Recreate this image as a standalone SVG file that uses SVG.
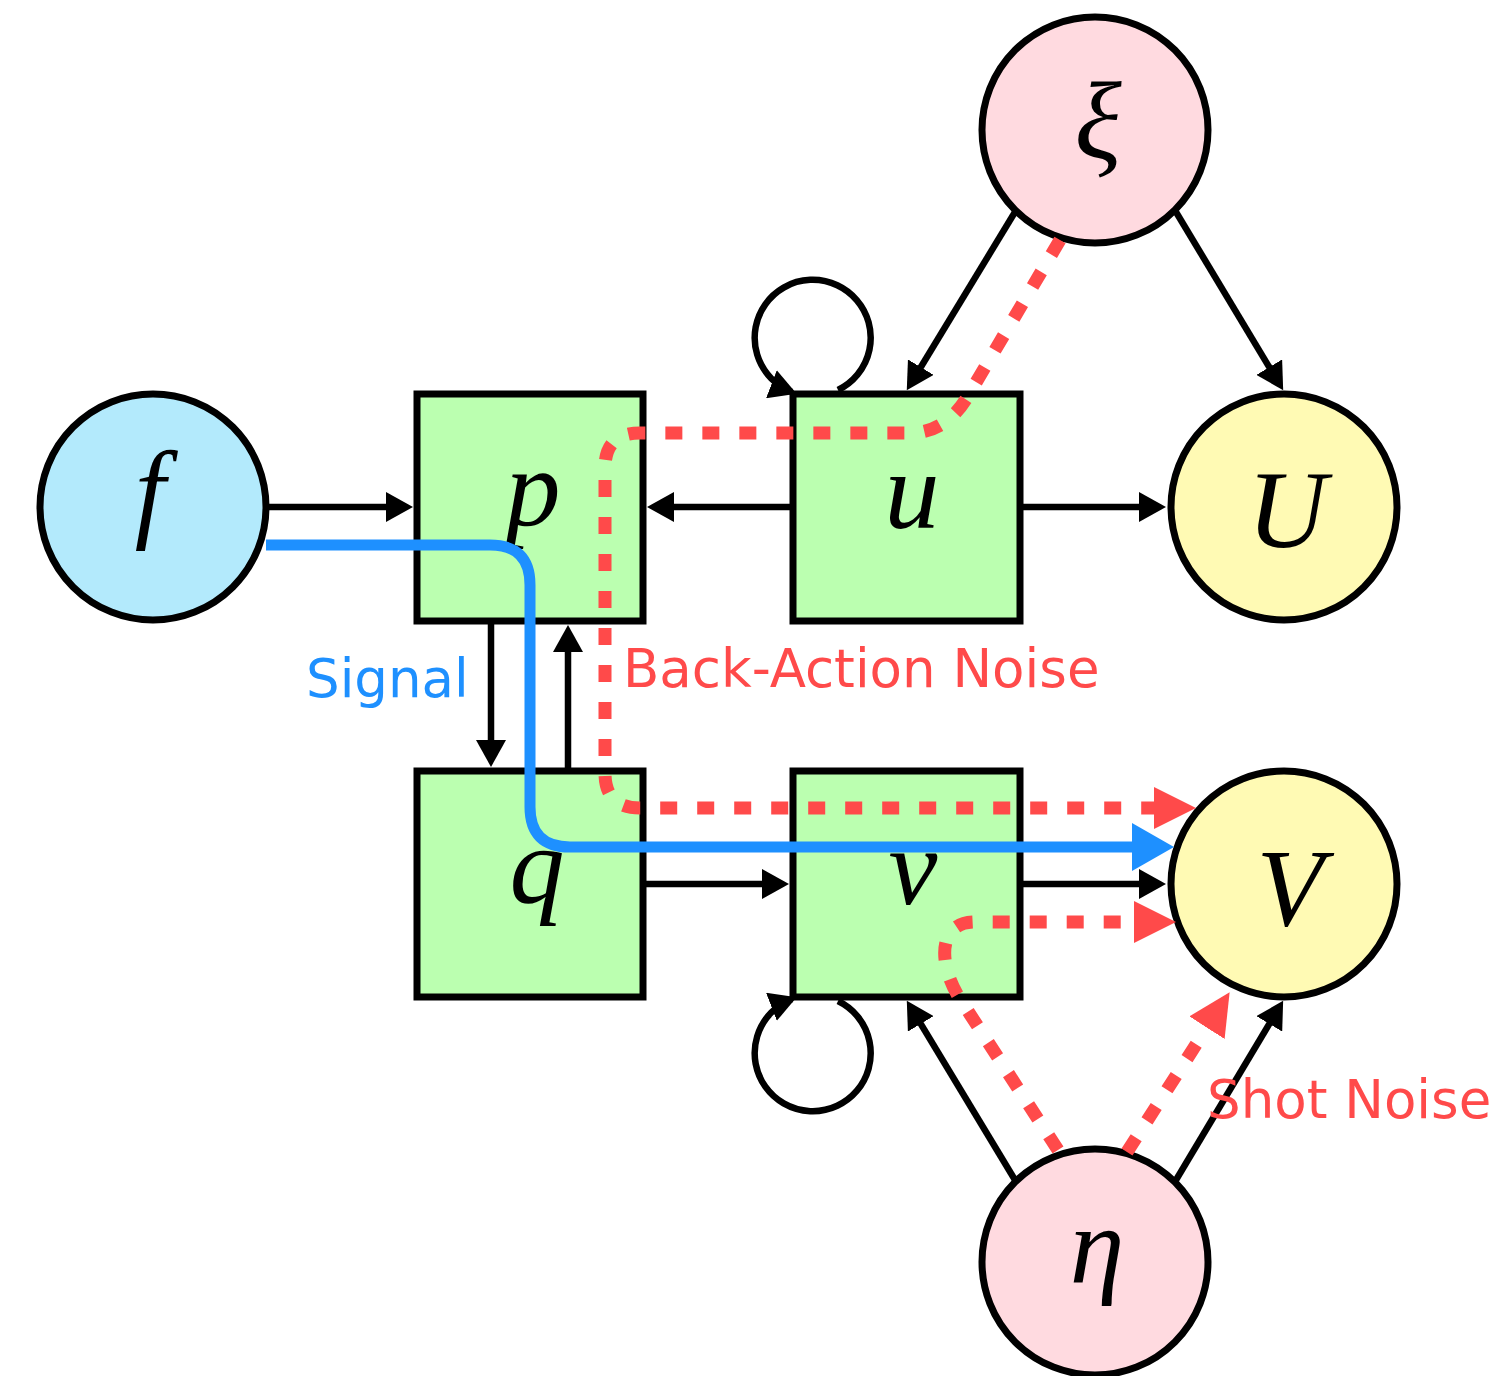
<svg xmlns="http://www.w3.org/2000/svg" width="1493" height="1376" viewBox="0 0 1493 1376">
<style>
.node{stroke:#000;stroke-width:7}
.circ-f{fill:#B3EAFC}
.circ-n{fill:#FFDAE0}
.circ-o{fill:#FFFAB4}
.box{fill:#BBFFB0}
.math{font-family:"Liberation Serif","Times New Roman",serif;font-style:italic;font-size:110px;text-anchor:middle;fill:#000}
.edge{fill:none;stroke:#000;stroke-width:6.5;marker-end:url(#ab)}
.loop{fill:none;stroke:#000;stroke-width:6.5;marker-end:url(#al)}
.sig{fill:none;stroke:#1E90FF;stroke-width:11;marker-end:url(#abl)}
.noise{fill:none;stroke:#FF4A4A;stroke-width:13;stroke-dasharray:17 20;marker-end:url(#ar)}
.lbl{font-family:"DejaVu Sans","Verdana",sans-serif;font-size:53px}
</style>
<defs>
<marker id="ab" markerUnits="userSpaceOnUse" viewBox="0 0 27 30" markerWidth="27" markerHeight="30" refX="15" refY="15" orient="auto"><path d="M0,0 L27,15 L0,30 z" fill="#000"/></marker>
<marker id="al" markerUnits="userSpaceOnUse" viewBox="0 0 27 30" markerWidth="27" markerHeight="30" refX="22" refY="15" orient="auto"><path d="M0,0 L27,15 L0,30 z" fill="#000"/></marker>
<marker id="ar" markerUnits="userSpaceOnUse" viewBox="0 0 42 42" markerWidth="42" markerHeight="42" refX="2" refY="21" orient="auto"><path d="M0,0 L42,21 L0,42 z" fill="#FF4A4A"/></marker>
<marker id="abl" markerUnits="userSpaceOnUse" viewBox="0 0 42 48" markerWidth="42" markerHeight="48" refX="2" refY="24" orient="auto"><path d="M0,0 L42,24 L0,48 z" fill="#1E90FF"/></marker>
</defs>

<g id="node-f"><circle class="node circ-f" cx="153" cy="507" r="113"/><text class="math" x="150" y="528">f</text></g>
<g id="node-p"><rect class="node box" x="417" y="394" width="226" height="227"/><text class="math" x="533" y="526">p</text></g>
<g id="node-u"><rect class="node box" x="793" y="394" width="227" height="227"/><text class="math" x="912" y="528">u</text></g>
<g id="node-q"><rect class="node box" x="417" y="771" width="226" height="226"/><text class="math" x="537" y="903">q</text></g>
<g id="node-v"><rect class="node box" x="793" y="771" width="227" height="226"/><text class="math" x="913" y="904">v</text></g>
<g id="node-xi"><circle class="node circ-n" cx="1095" cy="130" r="113"/><text class="math" x="1098" y="158">ξ</text></g>
<g id="node-U"><circle class="node circ-o" cx="1284" cy="507" r="113"/><text class="math" x="1287" y="547">U</text></g>
<g id="node-V"><circle class="node circ-o" cx="1284" cy="884" r="113"/><text class="math" x="1290" y="925">V</text></g>
<g id="node-eta"><circle class="node circ-n" cx="1095" cy="1262" r="113"/><text class="math" x="1097" y="1283">η</text></g>

<g id="connectors">
<path class="edge" d="M266 507 L401 507"/>
<path class="edge" d="M793 507 L659 507"/>
<path class="edge" d="M1020 507 L1154 507"/>
<path class="edge" d="M491 621 L491 755"/>
<path class="edge" d="M568 771 L568 637"/>
<path class="edge" d="M643 884 L777 884"/>
<path class="edge" d="M1020 884 L1154 884"/>
<path class="edge" d="M1015 212 L913 380"/>
<path class="edge" d="M1176 212 L1277 380"/>
<path class="edge" d="M1015 1180 L913 1011"/>
<path class="edge" d="M1176 1180 L1277 1011"/>
<path class="loop" d="M838 390 A58 58 0 1 0 792 392"/>
<path class="loop" d="M838 1001 A58 58 0 1 1 792 999"/>
<path class="sig" d="M266 545 L490 545 Q530 545 530 585 L530 807 Q530 847 570 847 L1134 847"/>
<path class="noise" d="M1060 240 L968 396 Q946 433 910 433 L640 433 Q605 433 605 468 L605 773 Q605 808 640 808 L1156 808"/>
<path class="noise" d="M1058 1150 L962 1002 C938 967 936 922 975 922 L1136 922"/>
<path class="noise" d="M1127 1152 L1208 1026"/>
</g>

<g id="labels">
<text class="lbl" x="306" y="697" fill="#1E90FF">Signal</text>
<text class="lbl" x="623" y="687" fill="#FF4A4A">Back-Action Noise</text>
<text class="lbl" x="1207" y="1118" fill="#FF4A4A">Shot Noise</text>
</g>
</svg>
